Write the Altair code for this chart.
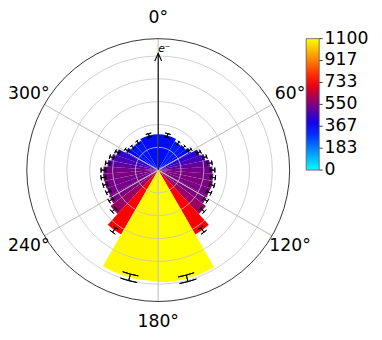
import altair as alt
import pandas as pd

# ---- data ----
# bin edges (degrees) of one half, 0 -> 180 (bins uniform in cos(theta))
edges = [0, 29.9, 42.8, 53.1, 62.2, 70.5, 78.5, 86.2, 93.8, 101.5, 109.5, 117.8, 126.9, 137.2, 150.1, 180]
right_vals = [351, 327, 336, 365, 432, 471, 509, 533, 543, 548, 543, 548, 586, 730, 1100]
right_err = [19, 18, 18, 19, 21, 22, 23, 23, 23, 23, 23, 23, 24, 27, 33]
left_vals = [351, 336, 336, 365, 437, 471, 500, 538, 543, 538, 533, 548, 586, 730, 1090]
left_err = [19, 18, 18, 19, 21, 22, 22, 23, 23, 23, 23, 23, 24, 27, 33]
cbar_ticks = [0, 183.33, 366.67, 550, 733.33, 916.67, 1100]
cbar_labels = ["0", "183", "367", "550", "733", "917", "1100"]
cmap_stops = [0, 366.67, 733.33, 1100]
cmap_colors = ["#00ffff", "#0000ff", "#ff0000", "#ffff00"]
angle_ticks = [0, 60, 120, 180, 240, 300]
angle_labels = ["0°", "60°", "120°", "180°", "240°", "300°"]
grid_r = [224, 448, 672, 896, 1120]
R_MAX = 1290
ARROW_R = 1147

# ---- layout ----
R_PX = 134.3
W = 2 * R_PX
PAD_L, PAD_T = 19.2, 27.7
PAD_R = 374 - PAD_L - W
PAD_B = 332 - PAD_T - W
LEG_X = 312.7 - 8 - PAD_L
CB_W = 13.3
FONT = "DejaVu Sans"
FS = 17.6

rows = []
for side, vals, errs in (("R", right_vals, right_err), ("L", left_vals, left_err)):
    for i, (v, e) in enumerate(zip(vals, errs)):
        a, b = edges[i], edges[i + 1]
        if side == "L":
            a, b = 360 - b, 360 - a
        tc = (a + b) / 2
        h = max(0.29 * (b - a) / 2, 2.5)
        rows.append(dict(t0=a, t1=b, tc=tc, val=v, lo=v - e, hi=v + e, c0=tc - h, c1=tc + h))
bins = pd.DataFrame(rows)
caps = pd.concat([
    bins.assign(rc=bins["lo"]),
    bins.assign(rc=bins["hi"]),
])[["c0", "c1", "rc"]]

grid = pd.DataFrame({"t0": 0, "t1": 360, "r": grid_r})
outer = pd.DataFrame({"t0": [0], "t1": [360], "r": [R_MAX]})
spokes = pd.DataFrame({"t": angle_ticks, "r": R_MAX})
labels = pd.DataFrame({"t": angle_ticks, "label": angle_labels})
arrow = pd.DataFrame({"t": [0], "r0": [0], "r1": [ARROW_R], "x": [0], "y": [ARROW_R], "txt": ["e⁻"]})
ticks = pd.DataFrame({"v": cbar_ticks, "lab": cbar_labels})

theta_scale = alt.Scale(type="linear", domain=[0, 360], range=[0, 6.283185307179586])
radius_scale = alt.Scale(type="linear", domain=[0, R_MAX], range=[0, R_PX], zero=True, nice=False)
cb_scale = alt.Scale(domain=[0, 1100], range=[R_PX, 0], nice=False, zero=False)


def th(f):
    return alt.Theta(f"{f}:Q", scale=theta_scale, stack=None)


def th2(f):
    return alt.Theta2(f"{f}:Q")


def rad(f):
    return alt.Radius(f"{f}:Q", scale=radius_scale, stack=None)


def rad2(f):
    return alt.Radius2(f"{f}:Q")


bars = alt.Chart(bins).mark_arc(strokeWidth=0).encode(
    theta=th("t0"), theta2=th2("t1"), radius=rad("val"),
    color=alt.Color(
        "val:Q",
        scale=alt.Scale(domain=cmap_stops, range=cmap_colors, interpolate="rgb"),
        legend=alt.Legend(
            orient="none", legendX=LEG_X, legendY=0, direction="vertical",
            title=None, gradientLength=R_PX, gradientThickness=CB_W,
            labelExpr="''", labelOpacity=0, labelFontSize=1, padding=0,
            gradientStrokeColor="#555555", gradientStrokeWidth=0.8,
        ),
    ),
)

grid_l = alt.Chart(grid).mark_arc(filled=False, color="#c4c4c4", strokeWidth=0.8).encode(
    theta=th("t0"), theta2=th2("t1"), radius=rad("r"))
spoke_l = alt.Chart(spokes).mark_arc(filled=False, color="#c4c4c4", strokeWidth=0.8).encode(
    theta=th("t"), theta2=th2("t"), radius=rad("r"))
outer_l = alt.Chart(outer).mark_arc(filled=False, color="black", strokeWidth=0.8).encode(
    theta=th("t0"), theta2=th2("t1"), radius=rad("r"))

err_l = alt.Chart(bins).mark_arc(filled=False, color="black", strokeWidth=1).encode(
    theta=th("tc"), theta2=th2("tc"), radius=rad("lo"), radius2=rad2("hi"))
cap_l = alt.Chart(caps).mark_arc(filled=False, color="black", strokeWidth=1).encode(
    theta=th("c0"), theta2=th2("c1"), radius=rad("rc"), radius2=rad2("rc"))

arrow_l = alt.Chart(arrow).mark_arc(filled=False, color="black", strokeWidth=1.1).encode(
    theta=th("t"), theta2=th2("t"), radius=rad("r1"), radius2=rad2("r0"))
head_l = alt.Chart(arrow).mark_point(
    shape="M-0.44,1L0,0L0.44,1", size=256, filled=False, color="black", strokeWidth=1.1, opacity=1
).encode(
    x=alt.X("x:Q", scale=alt.Scale(domain=[-R_MAX, R_MAX], range=[0, W], nice=False, zero=False), axis=None),
    y=alt.Y("y:Q", scale=alt.Scale(domain=[-R_MAX, R_MAX], range=[W, 0], nice=False, zero=False), axis=None),
)
elabel_l = alt.Chart(arrow).mark_text(
    radius=124, align="left", baseline="middle", fontSize=11, fontStyle="italic", font=FONT, color="black"
).encode(theta=th("t"), text="txt:N")

label_main = alt.Chart(labels).transform_filter("datum.t < 200").mark_text(
    radius=155.5, align="center", baseline="middle", fontSize=FS, font=FONT, color="black"
).encode(theta=th("t"), text="label:N")
label_left = alt.Chart(labels).transform_filter("datum.t > 200").mark_text(
    radius=155, dx=2, align="center", baseline="middle", fontSize=FS, font=FONT, color="black"
).encode(theta=th("t"), text="label:N")

tick_l = alt.Chart(ticks).mark_rule(color="black", strokeWidth=0.8).encode(
    y=alt.Y("v:Q", scale=cb_scale, axis=None),
    x=alt.value(LEG_X + CB_W), x2=alt.value(LEG_X + CB_W + 3.5),
)
ticklab_l = alt.Chart(ticks).mark_text(
    align="left", baseline="middle", fontSize=FS, font=FONT, color="black"
).encode(
    y=alt.Y("v:Q", scale=cb_scale, axis=None),
    x=alt.value(LEG_X + CB_W + 5.5),
    text="lab:N",
)

chart = alt.layer(
    bars, grid_l, spoke_l, outer_l, err_l, cap_l, arrow_l, head_l, elabel_l,
    label_main, label_left, tick_l, ticklab_l
).resolve_scale(x="independent", y="independent").properties(
    width=W, height=W,
    autosize=alt.AutoSizeParams(type="none"),
    padding={"left": PAD_L, "top": PAD_T, "right": PAD_R, "bottom": PAD_B},
).configure(font=FONT).configure_view(stroke=None)

chart.save("out.html", embed_options={"renderer": "svg", "actions": False})
